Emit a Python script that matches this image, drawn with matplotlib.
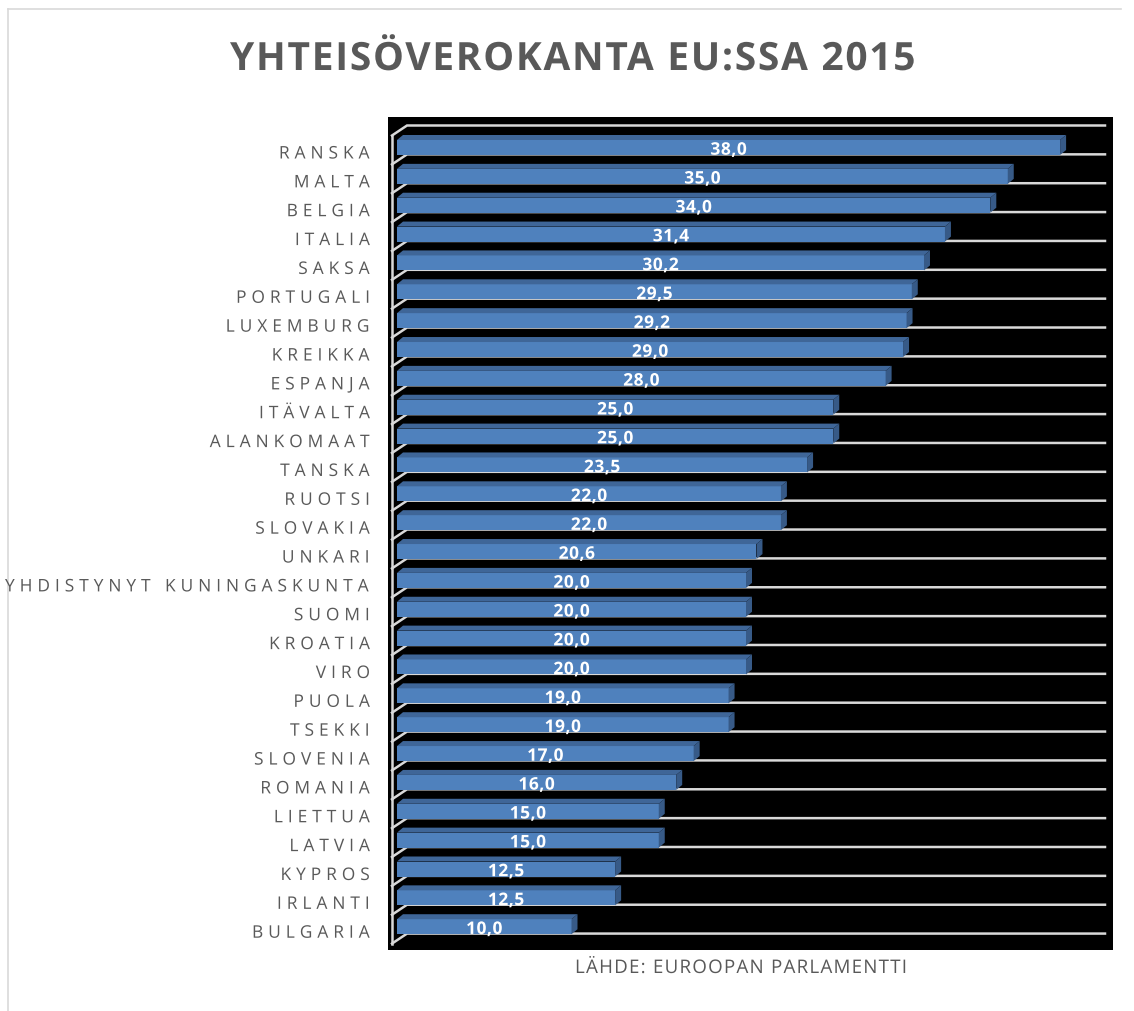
import numpy as np
import matplotlib
matplotlib.use("Agg")
import matplotlib.pyplot as plt
from matplotlib.patches import Polygon
from matplotlib.lines import Line2D
from matplotlib.path import Path
from matplotlib.patheffects import AbstractPathEffect
from matplotlib.textpath import text_to_path
from matplotlib.transforms import blended_transform_factory

# ---------------- data ----------------
countries = ["RANSKA", "MALTA", "BELGIA", "ITALIA", "SAKSA", "PORTUGALI",
             "LUXEMBURG", "KREIKKA", "ESPANJA", "ITÄVALTA", "ALANKOMAAT",
             "TANSKA", "RUOTSI", "SLOVAKIA", "UNKARI",
             "YHDISTYNYT KUNINGASKUNTA", "SUOMI", "KROATIA", "VIRO", "PUOLA",
             "TSEKKI", "SLOVENIA", "ROMANIA", "LIETTUA", "LATVIA", "KYPROS",
             "IRLANTI", "BULGARIA"]
rates = [38.0, 35.0, 34.0, 31.4, 30.2, 29.5, 29.2, 29.0, 28.0, 25.0, 25.0,
         23.5, 22.0, 22.0, 20.6, 20.0, 20.0, 20.0, 20.0, 19.0, 19.0, 17.0,
         16.0, 15.0, 15.0, 12.5, 12.5, 10.0]
title = "YHTEISÖVEROKANTA EU:SSA 2015"
source = "LÄHDE: EUROOPAN PARLAMENTTI"
axis_max = 40

# ---------------- layout ----------------
W, H, DPI = 1134, 1012, 100
fig = plt.figure(figsize=(W / DPI, H / DPI), dpi=DPI)
fig.patch.set_facecolor("white")

def fx(px):
    return px / W

def fy(py):
    return 1 - py / H

GRAY = "#595959"
LINE = "#d9d9d9"
FRONT = "#4F81BD"
TOP = "#3F6698"
SIDE = "#375A87"
FONT = "Open Sans"


class Tracked(AbstractPathEffect):
    """Draw text with extra letter spacing (tracking)."""

    def __init__(self, s, prop, track_em, align):
        super().__init__()
        self.s = s
        self.prop = prop
        self.track = track_em * text_to_path.FONT_SCALE
        self.align = align

    def draw_path(self, renderer, gc, tpath, affine, rgbFace=None):
        try:
            font = text_to_path._get_font(self.prop)
            glyph_info, glyph_map, _ = text_to_path.get_glyphs_with_font(font, self.s)
            counts = [len(glyph_map[g[0]][0]) for g in glyph_info]
            if sum(counts) != len(tpath.vertices):
                raise ValueError
            n = len(counts)
            total = (n - 1) * self.track
            base = {"left": 0.0, "center": -total / 2, "right": -total}[self.align]
            offs = np.repeat([base + i * self.track for i in range(n)], counts)
            v = np.array(tpath.vertices, dtype=float).copy()
            v[:, 0] += offs
            tpath = Path(v, tpath.codes)
        except Exception:
            pass
        renderer.draw_path(gc, tpath, affine, rgbFace)


renderer = fig.canvas.get_renderer()


def tracked_text(x, y, s, size, weight, color, ha, transform, target_w=None,
                 track_em=None):
    t = fig.text(x, y, s, fontsize=size, fontweight=weight, color=color,
                 family=FONT, ha=ha, va="baseline", transform=transform)
    if track_em is None:
        w = t.get_window_extent(renderer).width
        em = size * DPI / 72
        track_em = (target_w - w) / max(len(s) - 1, 1) / em
    t.set_path_effects([Tracked(s, t.get_fontproperties(), track_em, ha)])
    return t, track_em


# border of the chart area
fig.add_artist(Line2D([fx(8), fx(1121)], [fy(10), fy(10)], color=LINE, lw=1.2))
fig.add_artist(Line2D([fx(8), fx(8)], [fy(10), fy(1015)], color=LINE, lw=1.2))

# ---------------- plot area ----------------
ax = fig.add_axes([fx(388), fy(951), fx(1113) - fx(388), fy(118) - fy(951)])
ax.set_facecolor("black")
for sp in ax.spines.values():
    sp.set_visible(False)
ax.set_xticks([])
ax.set_yticks([])

px_x = 17.45          # pixels per value unit
px_y = 28.86          # pixels per category row
x0_px = 397
yc0_px = 148.5
ax.set_xlim((388 - x0_px) / px_x, (1113 - x0_px) / px_x)
ax.set_ylim((951 - yc0_px) / px_y, (118 - yc0_px) / px_y)

n = len(countries)
ypos = np.arange(n)

# 3D depth offsets (data units)
wall_dx = 10 / px_x
wall_dy = 10 / px_y
x_wall = (392 - x0_px) / px_x
bar_dx = 6 / px_x
bar_dy = 5 / px_y
front_h = 15 / px_y

# back gridlines with slanted floor segments
for k in range(n + 1):
    yg = (126.5 - yc0_px) / px_y + k
    ax.plot([x_wall, wall_dx, axis_max + wall_dx], [yg + wall_dy, yg, yg],
            color=LINE, lw=1.8, solid_joinstyle="miter", zorder=1)
y_first = (126.5 - yc0_px) / px_y + wall_dy
y_last = (126.5 - yc0_px) / px_y + n + wall_dy
ax.plot([x_wall, x_wall], [y_first, y_last], color=LINE, lw=1.8, zorder=1)

# bars
ax.barh(ypos, rates, height=front_h, left=0, color=FRONT, zorder=3,
        linewidth=0)
for i, v in zip(ypos, rates):
    yt = i - front_h / 2
    yb = i + front_h / 2
    ax.add_patch(Polygon([(0, yt), (v, yt), (v + bar_dx, yt - bar_dy),
                          (bar_dx, yt - bar_dy)], closed=True,
                         facecolor=TOP, edgecolor="none", zorder=3))
    ax.add_patch(Polygon([(v, yt), (v + bar_dx, yt - bar_dy),
                          (v + bar_dx, yb - bar_dy), (v, yb)], closed=True,
                         facecolor=SIDE, edgecolor="none", zorder=3))

# value labels
for i, v in zip(ypos, rates):
    lbl = f"{v:.1f}".replace(".", ",")
    tracked_text(v / 2, i + 7.2 / px_y, lbl, 12.5, "bold", "white", "center",
                 ax.transData, track_em=0.03)

# category labels
lab_tr = blended_transform_factory(fig.transFigure, ax.transData)
LAB_SIZE = 12.5
longest = max(countries, key=len)
tmp = fig.text(0, 0, longest, fontsize=LAB_SIZE, family=FONT)
w_long = tmp.get_window_extent(renderer).width
tmp.remove()
em = LAB_SIZE * DPI / 72
tr_em = (365 - w_long) / (len(longest) - 1) / em
for i, c in zip(ypos, countries):
    tracked_text(fx(370), i + 11 / px_y, c, LAB_SIZE, "normal", GRAY, "right",
                 lab_tr, track_em=tr_em)

# title and source
tracked_text(fx(572.5), fy(71), title, 28, "bold", GRAY, "center",
             fig.transFigure, target_w=685)
tracked_text(fx(741.5), fy(974), source, 13.5, "normal", GRAY, "center",
             fig.transFigure, target_w=333)

fig.savefig("out.png", dpi=DPI, facecolor="white")
